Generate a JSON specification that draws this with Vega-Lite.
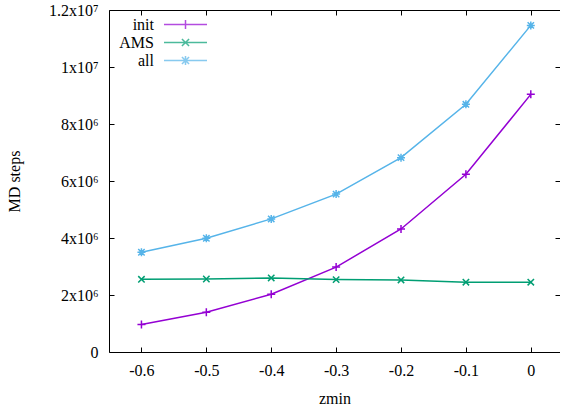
{
  "$schema": "https://vega.github.io/schema/vega-lite/v6.json",
  "width": 451,
  "height": 342,
  "autosize": {"type": "none"},
  "padding": {"left": 109, "top": 10, "right": 0, "bottom": 58},
  "background": "white",
  "config": {
    "font": "Liberation Serif",
    "view": {"stroke": "#000000", "strokeWidth": 1},
    "axis": {
      "grid": false,
      "domain": false,
      "labelFont": "Liberation Serif",
      "labelFontSize": 16,
      "labelColor": "#000000",
      "titleFont": "Liberation Serif",
      "titleFontSize": 16,
      "titleFontWeight": "normal",
      "titleColor": "#000000",
      "tickColor": "#000000",
      "tickSize": -5,
      "tickWidth": 1
    },
    "legend": {
      "labelFont": "Liberation Serif",
      "labelFontSize": 16,
      "labelColor": "#000000"
    }
  },
  "data": {
    "values": [
      {"zmin": -0.6, "series": "init", "steps": 965000},
      {"zmin": -0.5, "series": "init", "steps": 1393000},
      {"zmin": -0.4, "series": "init", "steps": 2025000},
      {"zmin": -0.3, "series": "init", "steps": 2980000},
      {"zmin": -0.2, "series": "init", "steps": 4316000},
      {"zmin": -0.1, "series": "init", "steps": 6235000},
      {"zmin": 0.0, "series": "init", "steps": 9040000},
      {"zmin": -0.6, "series": "AMS", "steps": 2550000},
      {"zmin": -0.5, "series": "AMS", "steps": 2560000},
      {"zmin": -0.4, "series": "AMS", "steps": 2600000},
      {"zmin": -0.3, "series": "AMS", "steps": 2540000},
      {"zmin": -0.2, "series": "AMS", "steps": 2530000},
      {"zmin": -0.1, "series": "AMS", "steps": 2450000},
      {"zmin": 0.0, "series": "AMS", "steps": 2450000},
      {"zmin": -0.6, "series": "all", "steps": 3500000},
      {"zmin": -0.5, "series": "all", "steps": 3990000},
      {"zmin": -0.4, "series": "all", "steps": 4670000},
      {"zmin": -0.3, "series": "all", "steps": 5540000},
      {"zmin": -0.2, "series": "all", "steps": 6820000},
      {"zmin": -0.1, "series": "all", "steps": 8690000},
      {"zmin": 0.0, "series": "all", "steps": 11460000}
    ]
  },
  "layer": [
    {
      "mark": {"type": "line", "strokeWidth": 1.5},
      "encoding": {
        "x": {
          "field": "zmin", "type": "quantitative",
          "scale": {"domain": [-0.65, 0.045], "nice": false, "zero": false},
          "axis": {
            "orient": "bottom",
            "values": [-0.6, -0.5, -0.4, -0.3, -0.2, -0.1, 0],
            "labelExpr": "datum.value == 0 ? '0' : '-' + format(-datum.value, '.1f')",
            "labelPadding": 15,
            "title": "zmin",
            "titlePadding": 12
          }
        },
        "y": {
          "field": "steps", "type": "quantitative",
          "scale": {"domain": [0, 12000000], "nice": false},
          "axis": {
            "orient": "left",
            "values": [0, 2000000, 4000000, 6000000, 8000000, 10000000, 12000000],
            "labelExpr": "datum.value == 0 ? '0' : datum.value >= 10000000 ? format(datum.value/10000000, '') + 'x10⁷' : format(datum.value/1000000, '') + 'x10⁶'",
            "labelPadding": 16,
            "title": "MD steps",
            "titlePadding": 26
          }
        },
        "color": {
          "field": "series", "type": "nominal",
          "scale": {"domain": ["init", "AMS", "all"], "range": ["#9400d3", "#009e73", "#56b4e9"]},
          "legend": null
        }
      }
    },
    {
      "mark": {"type": "point", "filled": false, "strokeWidth": 1.5, "size": 64, "opacity": 1},
      "encoding": {
        "x": {
          "field": "zmin", "type": "quantitative",
          "axis": {"orient": "top", "values": [-0.6, -0.5, -0.4, -0.3, -0.2, -0.1, 0], "labels": false, "title": null}
        },
        "y": {
          "field": "steps", "type": "quantitative",
          "axis": {"orient": "right", "values": [0, 2000000, 4000000, 6000000, 8000000, 10000000, 12000000], "labels": false, "title": null}
        },
        "color": {
          "field": "series", "type": "nominal",
          "scale": {"domain": ["init", "AMS", "all"], "range": ["#9400d3", "#009e73", "#56b4e9"]},
          "legend": null
        },
        "shape": {
          "field": "series", "type": "nominal",
          "scale": {
            "domain": ["init", "AMS", "all"],
            "range": [
              "M-1,0L1,0M0,-1L0,1",
              "M-0.8,-0.8L0.8,0.8M-0.8,0.8L0.8,-0.8",
              "M-1,0L1,0M0,-1L0,1M-0.8,-0.8L0.8,0.8M-0.8,0.8L0.8,-0.8"
            ]
          },
          "legend": null
        }
      }
    },
    {
      "mark": {"type": "point", "filled": false, "size": 0, "strokeWidth": 1.5},
      "encoding": {
        "x": {"field": "zmin", "type": "quantitative", "axis": null},
        "y": {"field": "steps", "type": "quantitative", "axis": null},
        "color": {
          "field": "series", "type": "nominal",
          "scale": {"domain": ["init", "AMS", "all"], "range": ["#9400d3", "#009e73", "#56b4e9"]},
          "legend": {
            "title": null,
            "orient": "none",
            "legendX": 54,
            "legendY": 5,
            "padding": 0,
            "symbolSize": 289,
            "symbolStrokeWidth": 1.5,
            "symbolOffset": 13,
            "rowPadding": 0,
            "labelAlign": "right",
            "labelOffset": -41
          }
        },
        "shape": {
          "field": "series", "type": "nominal",
          "scale": {
            "domain": ["init", "AMS", "all"],
            "range": [
              "M-2.53,0L2.53,0M0,-0.53L0,0.53",
              "M-2.53,0L2.53,0M-0.42,-0.42L0.42,0.42M-0.42,0.42L0.42,-0.42",
              "M-2.53,0L2.53,0M0,-0.53L0,0.53M-0.42,-0.42L0.42,0.42M-0.42,0.42L0.42,-0.42"
            ]
          },
          "legend": {
            "title": null,
            "orient": "none",
            "legendX": 54,
            "legendY": 5,
            "padding": 0,
            "symbolSize": 289,
            "symbolStrokeWidth": 1.5,
            "symbolOffset": 13,
            "rowPadding": 0,
            "labelAlign": "right",
            "labelOffset": -41
          }
        }
      }
    }
  ],
  "resolve": {
    "scale": {"shape": "independent", "color": "independent"},
    "legend": {"shape": "independent", "color": "independent"},
    "axis": {"x": "independent", "y": "independent"}
  }
}
